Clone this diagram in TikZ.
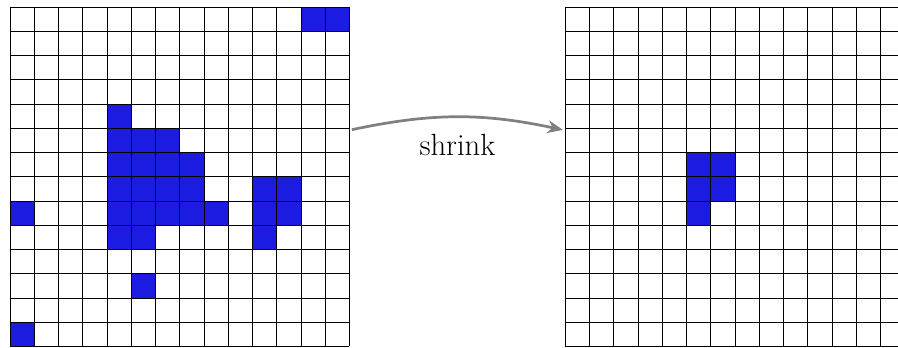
\documentclass[tikz,border=0pt]{standalone}
\usetikzlibrary{arrows.meta}
\definecolor{cellblue}{RGB}{27,27,226}
\definecolor{arrowgray}{RGB}{128,128,128}
\begin{document}
\begin{tikzpicture}[
  cellstyle/.style={fill=cellblue},
  gridline/.style={draw=black, line width=0.4pt},
  gridbox/.style={minimum size=7cm, inner sep=0pt, outer sep=0pt},
  flow/.style={draw=arrowgray, line width=1.6pt, -{Stealth[length=9pt,width=7.5pt]}},
  lbl/.style={font=\fontsize{18}{22}\selectfont}
]
\useasboundingbox (-0.206,-0.015) rectangle (18.31,7.144);
% left grid
\foreach \c/\r in {12/0,13/0,4/4,4/5,5/5,6/5,4/6,5/6,6/6,7/6,4/7,5/7,6/7,7/7,10/7,11/7,0/8,4/8,5/8,6/8,7/8,8/8,10/8,11/8,4/9,5/9,10/9,5/11,0/13}
  \fill[cellstyle] (\c*0.5,7-\r*0.5-0.5) rectangle (\c*0.5+0.5,7-\r*0.5);
\draw[gridline] (0,0) grid[step=0.5] (7,7);
\node[gridbox] (before) at (3.5,3.5) {};
% right grid
\begin{scope}[xshift=11.45cm]
\foreach \c/\r in {5/6,6/6,5/7,6/7,5/8}
  \fill[cellstyle] (\c*0.5,7-\r*0.5-0.5) rectangle (\c*0.5+0.5,7-\r*0.5);
\draw[gridline] (0,0) grid[step=0.5] (7,7);
\node[gridbox] (after) at (3.5,3.5) {};
\end{scope}
% arrow
\draw[flow] ([xshift=0.05cm,yshift=0.97cm]before.east) to[bend left=12]
  node[lbl, midway, anchor=base, yshift=-0.785cm] (shrinklbl) {shrink}
  ([xshift=-0.05cm,yshift=0.965cm]after.west);
\end{tikzpicture}
\end{document}
